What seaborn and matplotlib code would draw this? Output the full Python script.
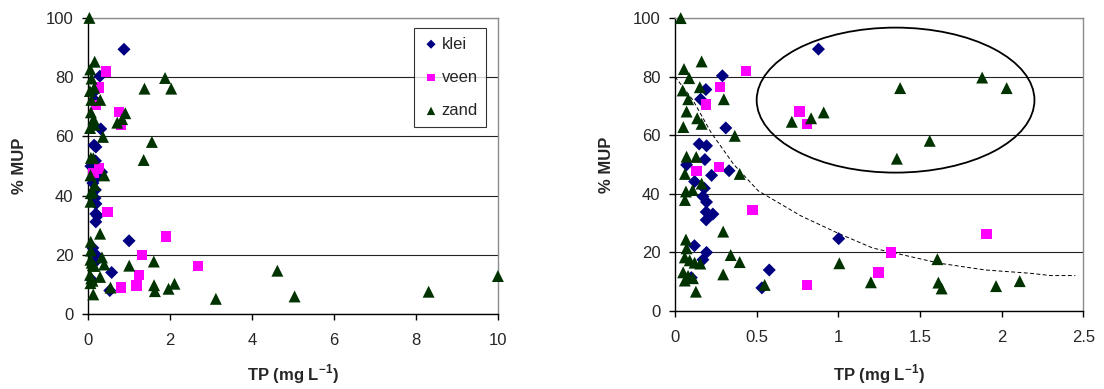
import numpy as np
import pandas as pd
import matplotlib
matplotlib.use("Agg")
import matplotlib.pyplot as plt
from matplotlib.patches import Ellipse
import seaborn as sns

# ---------------- data ----------------
klei_tp = [0.878, 0.29, 0.189, 0.157, 0.311, 0.148, 0.193, 0.183, 0.071, 0.331,
           0.224, 0.12, 0.18, 0.171, 0.193, 0.191, 0.232, 0.191, 1.002, 0.119,
           0.193, 0.171, 0.10, 0.577, 0.532]
klei_mup = [89.4, 80.3, 75.6, 72.3, 62.5, 57.0, 56.4, 51.7, 49.9, 47.9,
            46.3, 44.2, 41.9, 39.1, 37.2, 33.8, 33.1, 31.1, 24.7, 22.3,
            20.0, 17.5, 11.4, 14.0, 7.9]

veen_tp = [0.435, 0.274, 0.189, 0.762, 0.807, 0.27, 0.132, 0.474, 1.907, 1.321,
           1.246, 0.807, 2.68]
veen_mup = [81.9, 76.5, 70.5, 68.1, 63.9, 49.1, 47.7, 34.5, 26.2, 20.0,
            13.1, 8.9, 16.2]

zand_tp = [0.035, 0.163, 0.055, 0.087, 0.152, 0.047, 0.081, 0.299, 0.071, 0.136,
           0.163, 0.051, 0.366, 0.071, 0.13, 0.061, 0.396, 0.163, 0.067, 0.108,
           0.061, 0.295, 0.067, 0.071, 0.06, 0.09, 0.12, 0.155, 0.05, 0.08,
           0.06, 0.11, 0.341, 0.396, 0.295, 0.128, 0.549, 1.88, 2.03, 1.378,
           0.91, 0.833, 0.715, 1.559, 1.358, 1.606, 1.006, 1.612, 1.632, 1.965,
           2.11, 3.12, 4.62, 5.04, 8.31, 10.0]
zand_mup = [100.0, 85.2, 82.6, 79.5, 76.4, 75.3, 72.3, 72.3, 68.1, 65.8,
            63.9, 62.8, 59.8, 52.7, 52.6, 46.8, 46.8, 43.5, 40.8, 41.3,
            37.9, 27.1, 24.4, 21.4, 18.3, 17.3, 16.5, 16.2, 13.2, 12.0,
            10.4, 11.2, 19.1, 16.7, 12.5, 6.6, 8.9, 79.7, 76.1, 76.1,
            67.8, 65.8, 64.6, 58.1, 52.0, 17.7, 16.3, 9.7, 7.7, 8.5,
            10.2, 5.1, 14.6, 5.9, 7.5, 12.8]

# points that appear in only one of the two panels
left_only_veen_tp = [1.18]
left_only_veen_mup = [9.6]
right_only_zand_tp = [1.199]
right_only_zand_mup = [9.8]

# fitted curve (right panel)
curve_tp = [0.0, 0.11, 0.22, 0.36, 0.51, 0.77, 1.0, 1.21, 1.62, 1.9, 2.17, 2.3, 2.45]
curve_mup = [80.0, 72.0, 61.0, 50.0, 41.0, 32.5, 26.5, 21.5, 16.3, 14.0, 12.9, 12.1, 12.1]

# ellipse annotation (right panel)
ellipse_center = (1.35, 72.0)
ellipse_width = 1.70
ellipse_height = 49.5

soils = ["klei", "veen", "zand"]
colors = {"klei": "#000080", "veen": "#FF00FF", "zand": "#003300"}
markers = {"klei": "D", "veen": "s", "zand": "^"}
sizes = {"klei": 44, "veen": 55, "zand": 74}

def frame(tp, mup, soil, panel):
    return pd.DataFrame({"TP": tp, "MUP": mup, "soil": soil, "panel": panel})

df = pd.concat([
    frame(klei_tp, klei_mup, "klei", "both"),
    frame(veen_tp, veen_mup, "veen", "both"),
    frame(zand_tp, zand_mup, "zand", "both"),
    frame(left_only_veen_tp, left_only_veen_mup, "veen", "left"),
    frame(right_only_zand_tp, right_only_zand_mup, "zand", "right"),
], ignore_index=True)

# ---------------- style ----------------
sns.set_style("white")
plt.rcParams["font.family"] = ["Liberation Sans", "DejaVu Sans"]
FS = 12

fig = plt.figure(figsize=(11.04, 3.89), dpi=100)
axL = fig.add_axes([0.0797, 0.193, 0.3713, 0.761])
axR = fig.add_axes([0.6114, 0.2005, 0.3700, 0.753])


def draw(ax, data, xmax):
    for s in soils:
        sub = data[data.soil == s]
        sns.scatterplot(data=sub, x="TP", y="MUP", marker=markers[s], s=sizes[s],
                        color=colors[s], edgecolor="none", linewidth=0,
                        label=s, ax=ax, clip_on=False, zorder=3)
    ax.set_ylim(0, 100)
    ax.set_xlim(0, xmax)
    ax.set_yticks(np.arange(0, 101, 20))
    ax.yaxis.grid(True, color="#222222", linewidth=0.8)
    ax.xaxis.grid(False)
    ax.set_axisbelow(True)
    for side in ["left", "bottom"]:
        ax.spines[side].set_color("black")
        ax.spines[side].set_linewidth(1.0)
    for side in ["top", "right"]:
        ax.spines[side].set_color("#8c8c8c")
        ax.spines[side].set_linewidth(1.0)
        ax.spines[side].set_visible(True)
    ax.tick_params(axis="both", direction="out", length=4.5, width=1.0,
                   color="black", labelsize=FS, left=True, bottom=True)
    ax.tick_params(axis="y", pad=6)
    ax.tick_params(axis="x", pad=9)
    ax.set_xlabel("TP (mg L$^{\\mathregular{-1}}$)", fontsize=FS, fontweight="bold")
    ax.set_ylabel("% MUP", fontsize=FS, fontweight="bold")
    ax.yaxis.set_label_coords(-0.15, 0.5)


# left panel
left_data = df[df.panel.isin(["both", "left"])]
draw(axL, left_data, 10)
axL.set_xticks(np.arange(0, 11, 2))
axL.xaxis.set_label_coords(0.5, -0.165)
leg = axL.legend(loc="upper right", bbox_to_anchor=(0.972, 0.965), frameon=True,
                 fancybox=False, edgecolor="black", fontsize=FS,
                 labelspacing=1.1, handletextpad=0.1, handlelength=1.1,
                 borderpad=0.5, markerscale=0.7, borderaxespad=0)
leg.get_frame().set_linewidth(0.8)

# right panel
right_data = df[df.panel.isin(["both", "right"]) & (df.TP <= 2.5)]
draw(axR, right_data, 2.5)
axR.set_xticks([0, 0.5, 1, 1.5, 2, 2.5])
axR.set_xticklabels(["0", "0.5", "1", "1.5", "2", "2.5"])
axR.xaxis.set_label_coords(0.5, -0.175)
sns.lineplot(x=curve_tp, y=curve_mup, ax=axR, color="black", linewidth=0.7,
             linestyle=(0, (4, 2.5)), zorder=2, legend=False)
axR.add_patch(Ellipse(ellipse_center, ellipse_width, ellipse_height,
                      fill=False, edgecolor="black", linewidth=1.3, zorder=4))
if axR.get_legend() is not None:
    axR.get_legend().remove()

fig.savefig("out.png", dpi=100)
